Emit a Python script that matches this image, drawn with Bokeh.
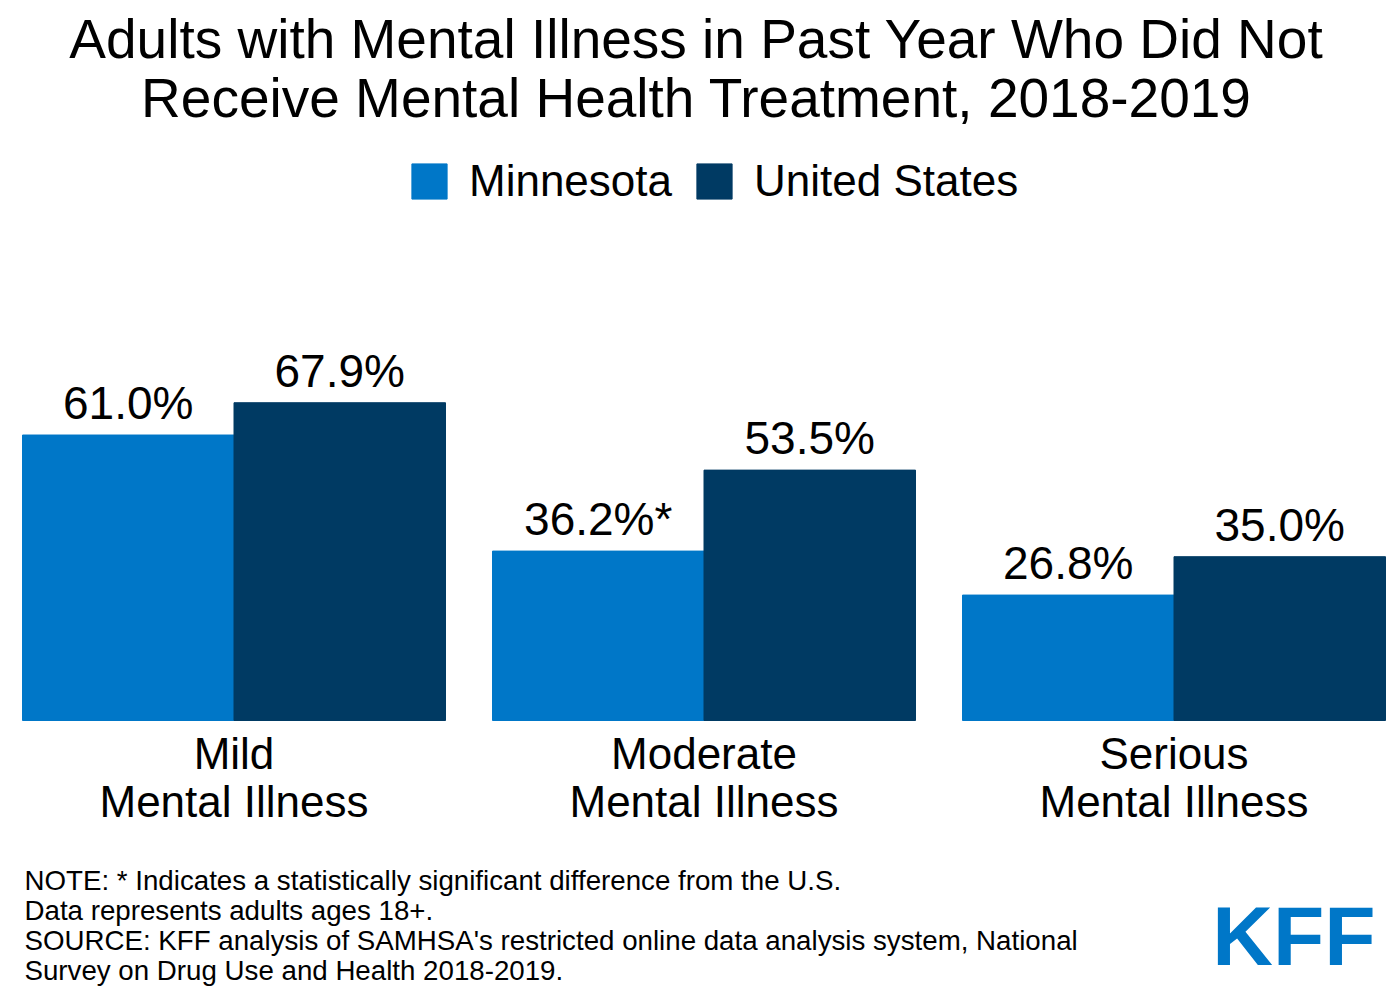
from bokeh.core.properties import value
from bokeh.embed import file_html
from bokeh.models import ColumnDataSource, Label, Legend, LegendItem, Range1d
from bokeh.plotting import figure
from bokeh.resources import INLINE

categories = ['Mild', 'Moderate', 'Serious']
minnesota = [61.0, 36.2, 26.8]
united_states = [67.9, 53.5, 35.0]
mn_labels = ['61.0%', '36.2%*', '26.8%']
us_labels = ['67.9%', '53.5%', '35.0%']
notes = [
    "NOTE: * Indicates a statistically significant difference from the U.S.",
    "Data represents adults ages 18+.",
    "SOURCE: KFF analysis of SAMHSA's restricted online data analysis system, National",
    "Survey on Drug Use and Health 2018-2019.",
]

FONT = "Liberation Sans"
W, H = 1392, 996
PX = 4.68  # pixels per percentage point
BASE = 720  # baseline, px from top

group_left = [22 + i * 470 for i in range(len(categories))]
bar_w = 211.5
mn_x = [g + bar_w / 2 for g in group_left]
us_x = [g + bar_w * 1.5 for g in group_left]
centers = [g + bar_w for g in group_left]

p = figure(width=W, height=H, output_backend="svg", toolbar_location=None,
           x_range=Range1d(0, W),
           y_range=Range1d((BASE - H) / PX, BASE / PX),
           min_border=0)
p.axis.visible = False
p.grid.visible = False
p.outline_line_color = None

src = ColumnDataSource(dict(mx=mn_x, ux=us_x, mn=minnesota, us=united_states,
                            ml=mn_labels, ul=us_labels))
r1 = p.vbar(x='mx', top='mn', width=bar_w, bottom=0, color='#0077c8', source=src)
r2 = p.vbar(x='ux', top='us', width=bar_w, bottom=0, color='#003a63', source=src)

for x, y, t in (('mx', 'mn', 'ml'), ('ux', 'us', 'ul')):
    p.text(x=x, y=y, text=t, source=src, y_offset=-6, text_align='center',
           text_baseline='bottom', text_font=value(FONT),
           text_font_size='46px', text_color='black')

cat_src = ColumnDataSource(dict(x=centers, y=[0] * 3, l1=categories,
                                l2=['Mental Illness'] * 3))
p.text(x='x', y='y', text='l1', source=cat_src, y_offset=8, text_align='center',
       text_baseline='top', text_font=value(FONT), text_font_size='44px')
p.text(x='x', y='y', text='l2', source=cat_src, y_offset=56, text_align='center',
       text_baseline='top', text_font=value(FONT), text_font_size='44px')

legend = Legend(items=[LegendItem(label='Minnesota', renderers=[r1]),
                       LegendItem(label='United States', renderers=[r2])],
                orientation='horizontal', location=(407, H - 206),
                glyph_width=44, glyph_height=44, label_text_font_size='44px',
                label_text_font=FONT, label_text_color='black',
                label_standoff=18, spacing=20,
                padding=0, margin=0, border_line_color=None,
                background_fill_alpha=0, label_height=44)
p.add_layout(legend, 'center')

for i, line in enumerate(['Adults with Mental Illness in Past Year Who Did Not',
                          'Receive Mental Health Treatment, 2018-2019']):
    p.add_layout(Label(x=696, y=H - 38 - i * 59, x_units='screen', y_units='screen',
                       text=line, text_align='center', text_baseline='middle',
                       text_font=FONT, text_font_size='55px', text_color='black'))

for i, line in enumerate(notes):
    p.add_layout(Label(x=24, y=H - 880 - i * 30, x_units='screen', y_units='screen',
                       text=line, text_align='left', text_baseline='middle',
                       text_font=FONT, text_font_size='27.7px', text_color='black'))

p.add_layout(Label(x=1375, y=H - 935, x_units='screen', y_units='screen', text='KFF',
                   text_align='right', text_baseline='middle', text_font=FONT,
                   text_font_size='84px', text_font_style='bold', text_color='#0077c8'))

open("out.html", "w").write(file_html(p, INLINE))
